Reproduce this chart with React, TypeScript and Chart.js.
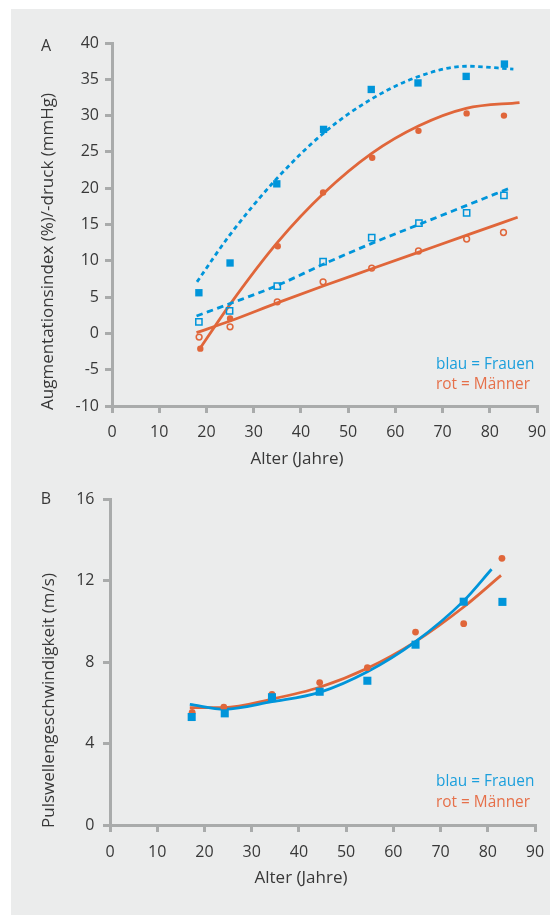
import { useEffect, useRef } from 'react';
import { Chart, registerables } from 'chart.js';
Chart.register(...registerables);

// ---------- Panel A: Augmentationsindex (%) / -druck (mmHg) ----------
const womenFilledX = [18.4, 25, 34.9, 44.8, 54.9, 64.8, 75, 83.1];
const womenFilledY = [5.6, 9.7, 20.6, 28.1, 33.6, 34.5, 35.4, 37.1];
const menFilledX = [18.7, 25, 35.1, 44.7, 55.1, 64.9, 75.1, 83];
const menFilledY = [-2.1, 2.05, 12.0, 19.4, 24.2, 27.9, 30.3, 30.0];
const womenOpenX = [18.4, 24.9, 35, 44.7, 55, 65, 75.1, 83];
const womenOpenY = [1.6, 3.1, 6.5, 9.9, 13.2, 15.2, 16.6, 19.0];
const menOpenX = [18.45, 25, 35, 44.7, 55, 64.9, 75.1, 82.9];
const menOpenY = [-0.5, 0.9, 4.35, 7.1, 9.0, 11.35, 13.0, 13.9];

// trend curves
const womenFilledFitX = [18, 25, 35, 45, 55, 65, 75, 85];
const womenFilledFitY = [7.1, 13.6, 21.4, 27.7, 32.3, 35.4, 36.8, 36.4];
const menFilledFitX = [18.7, 25, 35, 45, 55, 65, 75, 86.3];
const menFilledFitY = [-2.0, 4.0, 12.5, 19.4, 24.8, 28.6, 31.0, 31.8];
const womenOpenFitX = [17.9, 25, 35, 45, 55, 65, 75, 84.2];
const womenOpenFitY = [2.4, 4.1, 6.6, 9.6, 12.4, 15.0, 17.6, 20.0];
const menOpenFitX = [17.9, 25, 35, 45, 55, 65, 75, 85.9];
const menOpenFitY = [0.1, 1.7, 4.2, 6.6, 8.9, 11.2, 13.5, 16.0];

// ---------- Panel B: Pulswellengeschwindigkeit (m/s) ----------
const womenPwvX = [17.3, 24.3, 34.3, 44.4, 54.5, 64.7, 74.9, 83.1];
const womenPwvY = [5.3, 5.48, 6.27, 6.54, 7.08, 8.85, 10.96, 10.95];
const menPwvX = [17.4, 24.1, 34.3, 44.4, 54.5, 64.7, 74.9, 83.0];
const menPwvY = [5.53, 5.78, 6.41, 6.99, 7.72, 9.47, 9.88, 13.09];
const womenPwvFitX = [16.9, 24.3, 34.3, 44.4, 54.5, 64.7, 74.9, 80.8];
const womenPwvFitY = [5.92, 5.68, 6.05, 6.51, 7.52, 9.0, 11.0, 12.55];
const menPwvFitX = [16.9, 24.1, 34.3, 44.4, 54.5, 64.7, 74.9, 82.8];
const menPwvFitY = [5.76, 5.76, 6.18, 6.76, 7.69, 9.0, 10.7, 12.25];

const xTitle = 'Alter (Jahre)';
const yTitleA = 'Augmentationsindex (%)/-druck (mmHg)';
const yTitleB = 'Pulswellengeschwindigkeit (m/s)';
const legendWomen = 'blau = Frauen';
const legendMen = 'rot = Männer';

const AX = '#a9abab';
const TXT = '#383838';
const BLUE = '#0095da';
const ORANGE = '#e0663a';
const BLUE_T = '#1c9fdc';
const ORANGE_T = '#e6704a';
const BG = '#ebecec';
const FONT = '"Open Sans", sans-serif';

const pts = (xs: number[], ys: number[]) => xs.map((x, i) => ({ x, y: ys[i] }));

type TextItem = { text: string; x: number; y: number; color: string; size: number; align: CanvasTextAlign; rot?: number };

const textPlugin = (items: TextItem[]) => ({
  id: 'texts',
  afterDraw(chart: any) {
    const ctx = chart.ctx as CanvasRenderingContext2D;
    items.forEach((t) => {
      ctx.save();
      ctx.font = `${t.size}px ${FONT}`;
      ctx.fillStyle = t.color;
      ctx.textAlign = t.align;
      ctx.textBaseline = 'middle';
      ctx.translate(t.x, t.y);
      if (t.rot) ctx.rotate(t.rot);
      ctx.fillText(t.text, 0, 0);
      ctx.restore();
    });
  },
});

function makeScales(o: { yMin: number; yMax: number; yStep: number; yWidth: number; xHeight: number; yPad: number; xPad: number }) {
  const grid = { display: true, drawOnChartArea: false, drawTicks: true, tickLength: 7, color: AX, lineWidth: 3 };
  const border = { display: true, color: AX, width: 3 };
  const ticks = { color: TXT, font: { family: FONT, size: 16 }, autoSkip: false };
  return {
    x: {
      type: 'linear', min: 0, max: 90,
      grid, border,
      ticks: { ...ticks, stepSize: 10, padding: o.xPad, maxRotation: 0 },
      afterFit: (s: any) => { s.height = o.xHeight; s.paddingLeft = 0; s.paddingRight = 0; },
    },
    y: {
      type: 'linear', min: o.yMin, max: o.yMax,
      grid, border,
      ticks: { ...ticks, stepSize: o.yStep, padding: o.yPad },
      afterFit: (s: any) => { s.width = o.yWidth; s.paddingTop = 0; s.paddingBottom = 0; },
    },
  };
}

const pointSet = (label: string, data: any[], style: string, r: number, color: string, filled: boolean) => ({
  label, data, showLine: false,
  pointStyle: style, pointRadius: r, pointHoverRadius: r,
  pointBackgroundColor: filled ? color : 'rgba(0,0,0,0)',
  pointBorderColor: color, pointBorderWidth: filled ? 0 : 1.5,
  order: 1,
});

const lineSet = (label: string, data: any[], color: string, dash: number[]) => ({
  label, data, showLine: true, pointRadius: 0, pointHoverRadius: 0,
  borderColor: color, borderWidth: 2.8, borderDash: dash,
  cubicInterpolationMode: 'monotone', fill: false, order: 2,
});

export default function App() {
  const refA = useRef<HTMLCanvasElement>(null);
  const refB = useRef<HTMLCanvasElement>(null);

  useEffect(() => {
    const chartA = new Chart(refA.current!, {
      type: 'scatter',
      data: {
        datasets: [
          pointSet('Frauen (gefüllt)', pts(womenFilledX, womenFilledY), 'rect', 5.2, BLUE, true),
          pointSet('Frauen (offen)', pts(womenOpenX, womenOpenY), 'rect', 4.4, BLUE, false),
          pointSet('Männer (gefüllt)', pts(menFilledX, menFilledY), 'circle', 3.2, ORANGE, true),
          pointSet('Männer (offen)', pts(menOpenX, menOpenY), 'circle', 2.9, ORANGE, false),
          lineSet('Trend Frauen 1', pts(womenFilledFitX, womenFilledFitY), BLUE, [4.5, 3.5]),
          lineSet('Trend Frauen 2', pts(womenOpenFitX, womenOpenFitY), BLUE, [6.5, 4.5]),
          lineSet('Trend Männer 1', pts(menFilledFitX, menFilledFitY), ORANGE, []),
          lineSet('Trend Männer 2', pts(menOpenFitX, menOpenFitY), ORANGE, []),
        ] as any,
      },
      options: {
        animation: false,
        responsive: false,
        devicePixelRatio: 1,
        layout: { padding: { left: 0, right: 13, top: 43, bottom: 0 } },
        plugins: { legend: { display: false }, tooltip: { enabled: false } },
        scales: makeScales({ yMin: -10, yMax: 40, yStep: 5, yWidth: 112, xHeight: 64, yPad: 6, xPad: 10 }) as any,
      },
      plugins: [
        textPlugin([
          { text: 'A', x: 46, y: 46, color: TXT, size: 16, align: 'center' },
          { text: yTitleA, x: 48.5, y: 410, color: TXT, size: 17, align: 'left', rot: -Math.PI / 2 },
          { text: xTitle, x: 297, y: 459, color: TXT, size: 17, align: 'center' },
          { text: legendWomen, x: 436, y: 364.5, color: BLUE_T, size: 15.4, align: 'left' },
          { text: legendMen, x: 436, y: 385, color: ORANGE_T, size: 15.4, align: 'left' },
        ]),
      ],
    });

    const chartB = new Chart(refB.current!, {
      type: 'scatter',
      data: {
        datasets: [
          pointSet('Frauen', pts(womenPwvX, womenPwvY), 'rect', 5.7, BLUE, true),
          pointSet('Männer', pts(menPwvX, menPwvY), 'circle', 3.4, ORANGE, true),
          lineSet('Trend Frauen', pts(womenPwvFitX, womenPwvFitY), BLUE, []),
          lineSet('Trend Männer', pts(menPwvFitX, menPwvFitY), ORANGE, []),
        ] as any,
      },
      options: {
        animation: false,
        responsive: false,
        devicePixelRatio: 1,
        layout: { padding: { left: 0, right: 15, top: 29, bottom: 0 } },
        plugins: { legend: { display: false }, tooltip: { enabled: false } },
        scales: makeScales({ yMin: 0, yMax: 16, yStep: 4, yWidth: 110, xHeight: 90, yPad: 8.5, xPad: 11 }) as any,
      },
      plugins: [
        textPlugin([
          { text: 'B', x: 46, y: 29, color: TXT, size: 16, align: 'center' },
          { text: yTitleB, x: 49.5, y: 358, color: TXT, size: 17, align: 'left', rot: -Math.PI / 2 },
          { text: xTitle, x: 301, y: 408.5, color: TXT, size: 17, align: 'center' },
          { text: legendWomen, x: 436, y: 311.7, color: BLUE_T, size: 15.4, align: 'left' },
          { text: legendMen, x: 436, y: 332.3, color: ORANGE_T, size: 15.4, align: 'left' },
        ]),
      ],
    });

    return () => {
      chartA.destroy();
      chartB.destroy();
    };
  }, []);

  return (
    <div style={{ position: 'absolute', left: 0, top: 0, width: 550, height: 915, background: '#ffffff', overflow: 'hidden' }}>
      <div style={{ position: 'absolute', left: 11, top: 9, width: 539, height: 906, background: BG }} />
      <canvas ref={refA} width={550} height={470} style={{ position: 'absolute', left: 0, top: 0, width: 550, height: 470 }} />
      <canvas ref={refB} width={550} height={445} style={{ position: 'absolute', left: 0, top: 470, width: 550, height: 445 }} />
    </div>
  );
}
